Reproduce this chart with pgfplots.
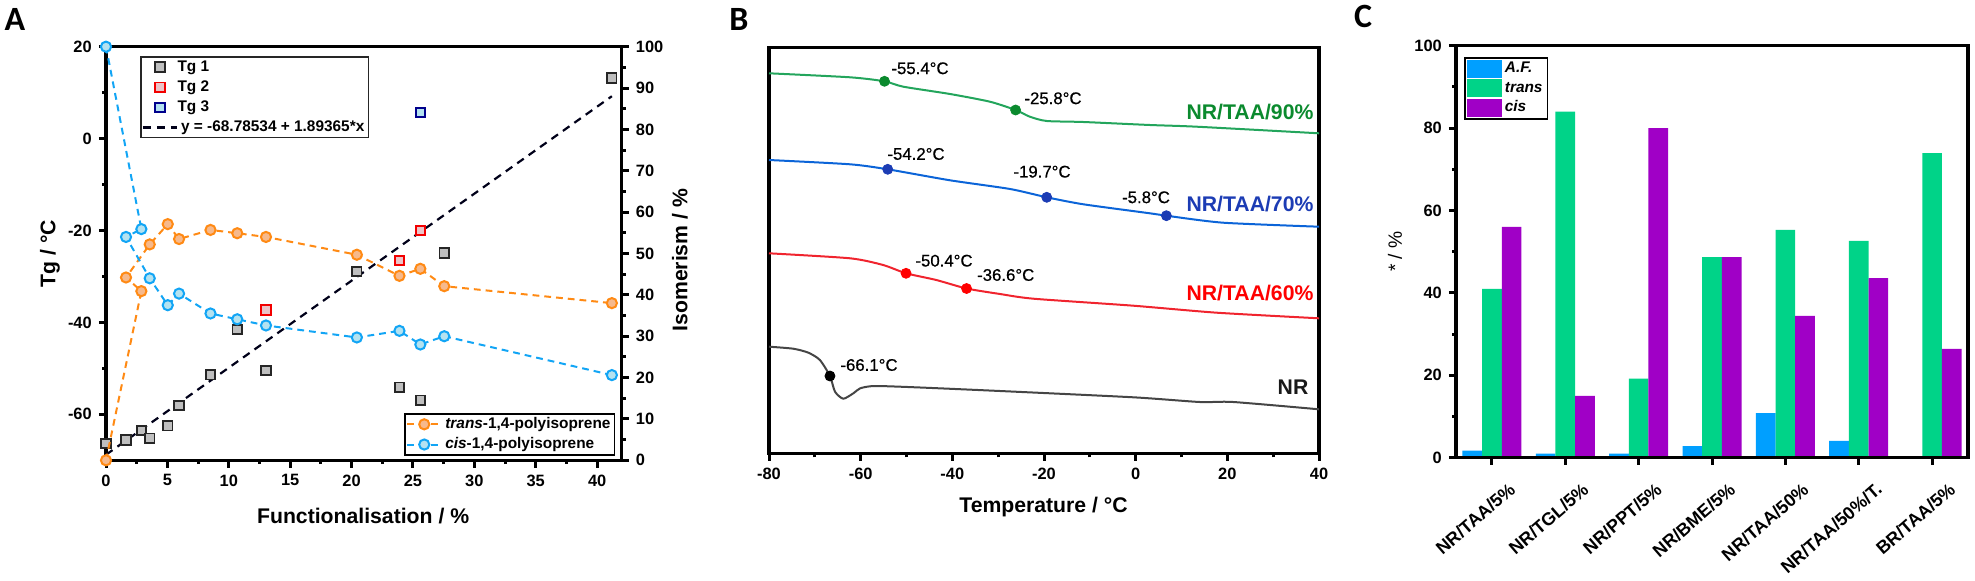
\documentclass[border=0pt]{standalone}
\usepackage{fontspec}
\setmainfont{Liberation Sans}
\newfontfamily\lettersfont{Carlito}
\newfontfamily\annfont[FakeBold=0.6]{Liberation Sans}
\usepackage{pgfplots}
\pgfplotsset{compat=1.18}

\definecolor{orgedge}{HTML}{FF8A14}
\definecolor{orgfill}{HTML}{F6B98C}
\definecolor{bluedge}{HTML}{12A5F5}
\definecolor{blufill}{HTML}{B4E2F0}
\definecolor{trgreen}{HTML}{00D388}
\definecolor{afblue}{HTML}{009FFF}
\definecolor{cispurple}{HTML}{A000C6}
\definecolor{dscgreen}{HTML}{23A55C}
\definecolor{dscblue}{HTML}{0B64D8}
\definecolor{dscred}{HTML}{F0242E}
\definecolor{dscgrey}{HTML}{454545}
\definecolor{lblgreen}{HTML}{0B8A2E}
\definecolor{lblblue}{HTML}{1C3CB4}
\definecolor{tgonefill}{HTML}{BFBFBF}
\definecolor{tgtwofill}{HTML}{EBC4C8}

\newcommand{\tk}{\fontsize{8.2}{10}\selectfont\bfseries}
\newcommand{\lab}{\fontsize{10.6}{12}\selectfont\bfseries}
\newcommand{\leg}{\fontsize{7.7}{9}\selectfont\bfseries}
\newcommand{\PX}[2]{({#1*0.5pt},{290pt-#2*0.5pt})}

\pgfplotsset{
  panel/.style={
    scale only axis,
    /pgf/number format/assume math mode=true,
    tick label style={font=\tk},
    tick align=outside,
    major tick length=3.6pt,
    minor tick length=1.9pt,
    every tick/.style={black,line width=1.5pt},
    every minor tick/.style={black,line width=1.5pt},
    axis line style={line width=1.7pt},
    enlargelimits=false,
    clip=false,
  },
  tgmark/.style 2 args={only marks,mark=square*,mark size=2.35pt,
    mark options={solid,line width=0.9pt,draw=#1,fill=#2}},
  iso/.style 2 args={dash pattern=on 3.4pt off 2.5pt,line width=1pt,color=#1,
    mark=*,mark size=2.55pt,mark options={solid,draw=#1,fill=#2,line width=1pt}},
}

\begin{document}
\begin{tikzpicture}
\useasboundingbox (0,0) rectangle (987.5pt,290pt);

% panel A, Tg axis
\begin{axis}[panel,
  at={(53pt,59.85pt)},anchor=south west,width=257.85pt,height=206.8pt,
  xmin=0,xmax=42,ymin=-70,ymax=20,
  xtick={0,5,...,40},ytick={-60,-40,...,20},
  minor x tick num=1,minor y tick num=1,
  xtick pos=bottom,ytick pos=left,
  xlabel={\lab Functionalisation / \%},
  ylabel={\lab Tg / °C},
  xlabel style={at={(axis description cs:0.4986,-0.135)},anchor=center},
  ylabel style={at={(axis description cs:-0.1086,0.5)},anchor=center},
  legend style={at={(axis description cs:0.0659,0.9775)},anchor=north west,
    font=\leg,draw=black!85,line width=0.8pt,row sep=3pt,inner ysep=1.5pt,inner xsep=0.5pt,
    nodes={text height=5.6pt,text depth=1.5pt,inner ysep=0pt,inner xsep=1.5pt}},
  legend cell align=left,
]
\addplot[tgmark={black!85}{tgonefill}] coordinates {
  (0,-66.3) (1.63,-65.6) (2.88,-63.5) (3.56,-65.2) (5.03,-62.5) (5.95,-58.1)
  (8.51,-51.4) (10.69,-41.5) (13.03,-50.5) (20.43,-28.9) (23.9,-54.1)
  (25.6,-56.9) (27.55,-24.9) (41.2,13.2)};
\addlegendentry{\hspace{-1.8pt}Tg 1}
\addplot[tgmark={red!95!black}{tgtwofill}] coordinates {
  (13.03,-37.3) (23.9,-26.5) (25.6,-20)};
\addlegendentry{\hspace{-1.8pt}Tg 2}
\addplot[tgmark={blue!55!black}{blufill}] coordinates {(25.6,5.7)};
\addlegendentry{\hspace{-1.8pt}Tg 3}
\addplot[black!90!blue,line width=1.1pt,dash pattern=on 4pt off 3pt] coordinates {
  (0,-68.78534) (41.2,9.23)};
\addlegendentry{y = -68.78534 + 1.89365*x}
\end{axis}

% panel A, isomerism axis
\begin{axis}[panel,
  at={(53pt,59.85pt)},anchor=south west,width=257.85pt,height=206.8pt,
  xmin=0,xmax=42,ymin=0,ymax=100,
  axis x line=none,axis y line*=right,
  ytick={0,10,...,100},minor y tick num=1,
  ylabel={\lab Isomerism / \%},
  ylabel style={at={(axis description cs:1.113,0.484)},anchor=center},
  legend style={at={(axis description cs:0.5784,0.1136)},anchor=north west,
    font=\leg,draw=black,line width=0.9pt,row sep=3pt,inner ysep=1.5pt,inner xsep=0.5pt,
    nodes={text height=5.6pt,text depth=1.5pt,inner ysep=0pt,inner xsep=1.5pt}},
  legend cell align=left,
]
\addplot[iso={orgedge}{orgfill}] coordinates {
  (0,0) (2.88,40.9) (1.63,44.2) (3.56,52.2) (5.03,57.1) (5.95,53.5) (8.51,55.7)
  (10.69,54.9) (13.03,54) (20.43,49.7) (23.9,44.6) (25.6,46.3) (27.55,42.1) (41.2,38)};
\addlegendentry{\textit{trans}-1,4-polyisoprene}
\addplot[iso={bluedge}{blufill}] coordinates {
  (0,100) (2.88,55.9) (1.63,54) (3.56,44) (5.03,37.5) (5.95,40.3) (8.51,35.5)
  (10.69,34.1) (13.03,32.6) (20.43,29.7) (23.9,31.3) (25.6,28) (27.55,30) (41.2,20.6)};
\addlegendentry{\textit{cis}-1,4-polyisoprene}
\end{axis}

% panel B, y is height above the axis in arbitrary units
\begin{axis}[panel,
  at={(384.5pt,63.25pt)},anchor=south west,width=275pt,height=202.9pt,
  xmin=-80,xmax=40,ymin=0,ymax=405.8,
  xtick={-80,-60,...,40},minor x tick num=1,ytick=\empty,
  xtick pos=bottom,
  xlabel={\lab Temperature / °C},
  xlabel style={at={(axis description cs:0.4991,-0.132)},anchor=center},
]
\addplot[dscgreen,line width=1pt,smooth,tension=0.4] coordinates {
  (-80,380.2) (-62.3,376.2) (-54.8,372.2) (-50.7,366.8) (-40.5,359.5) (-31.8,351.8)
  (-26.2,343.5) (-23.1,336.8) (-19.4,332.5) (-11.4,331.5) (3.1,328.5) (13.3,326.8) (40,320.2)};
\addplot[dscblue,line width=1pt,smooth,tension=0.4] coordinates {
  (-80,293.5) (-62.3,289.2) (-54.1,284.2) (-40.5,273.2) (-27.4,264.5) (-19.4,256.2)
  (-11.4,249.2) (3.1,240.2) (6.7,237.8) (19.1,230.8) (40,226.8)};
\addplot[dscred,line width=1pt,smooth,tension=0.4] coordinates {
  (-80,200.2) (-62.3,195.2) (-55.1,188.5) (-50.1,180.2) (-43.5,173.5) (-36.9,165)
  (-29.6,159.5) (-22.3,154.8) (-0.5,147.8) (17.7,140.8) (40,135.2)};
\addplot[dscgrey,line width=1pt,smooth,tension=0.4] coordinates {
  (-80,106.8) (-74.7,104.8) (-71.4,100.8) (-68.9,93.5) (-66.7,77.5) (-65.6,61.8)
  (-63.8,54.8) (-61.6,60.2) (-60.1,65.2) (-56.9,67.5) (-47,66) (-29.6,62.5)
  (-0.5,56.2) (14,51.5) (21.3,51.5) (40,44.2)};
\addplot[only marks,mark=*,mark size=2.5pt,color=lblgreen] coordinates {(-54.8,372.2) (-26.2,343.5)};
\addplot[only marks,mark=*,mark size=2.5pt,color=lblblue] coordinates {(-54.1,284.2) (-19.4,256.2) (6.7,237.8)};
\addplot[only marks,mark=*,mark size=2.5pt,color=red] coordinates {(-50.1,180.2) (-36.9,165)};
\addplot[only marks,mark=*,mark size=2.5pt,color=black] coordinates {(-66.7,77.5)};
\end{axis}

% panel C
\begin{axis}[panel,
  at={(728pt,61.15pt)},anchor=south west,width=256pt,height=206pt,
  ybar=0pt,bar width=0.268,
  xmin=-0.49,xmax=6.49,ymin=0,ymax=100,
  xtick={0,...,6},
  xticklabels={NR/TAA/5\%,NR/TGL/5\%,NR/PPT/5\%,NR/BME/5\%,NR/TAA/50\%,NR/TAA/50\%/T.,BR/TAA/5\%},
  x tick label style={font=\fontsize{9}{11}\selectfont\bfseries,rotate=41,anchor=north east,xshift=4pt,yshift=-8pt},
  ytick={0,20,...,100},minor y tick num=1,
  xtick pos=bottom,ytick pos=left,
  axis on top,
  ylabel={\fontsize{9.6}{11}\selectfont * / \%},
  ylabel style={at={(axis description cs:-0.119,0.5)},anchor=center},
  legend style={at={(axis description cs:0.0156,0.973)},anchor=north west,
    font=\fontsize{7.7}{9}\selectfont\bfseries\itshape,draw=black,line width=0.9pt,
    row sep=0.6pt,inner ysep=1pt,inner xsep=1pt,
    nodes={text height=5.6pt,text depth=1.5pt,inner ysep=1pt,inner xsep=1.5pt}},
  legend cell align=left,
  legend image code/.code={\fill[#1,draw=none] (0pt,-4.5pt) rectangle (17.5pt,4.5pt);},
]
\addplot[fill=afblue,draw=none] coordinates {(0,1.7) (1,1) (2,1) (3,2.8) (4,10.8) (5,4.1) (6,0)};
\addlegendentry{A.F.}
\addplot[fill=trgreen,draw=none] coordinates {(0,41) (1,84) (2,19.2) (3,48.7) (4,55.3) (5,52.6) (6,73.9)};
\addlegendentry{trans}
\addplot[fill=cispurple,draw=none] coordinates {(0,56) (1,15) (2,80) (3,48.7) (4,34.4) (5,43.6) (6,26.4)};
\addlegendentry{cis}
\end{axis}

% annotations
\node[font=\lettersfont\fontsize{17}{18}\selectfont\bfseries] at \PX{15}{19} {A};
\node[font=\lettersfont\fontsize{17}{18}\selectfont\bfseries] at \PX{739}{19} {B};
\node[font=\lettersfont\fontsize{17}{18}\selectfont\bfseries] at \PX{1363}{16} {C};
\foreach \x/\y/\t in {920/68.3/-55.4,1053/98.3/-25.8,916/154/-54.2,1042/171.7/-19.7,
  1146/197.3/-5.8,944/260.7/-50.4,1005.7/275/-36.6,869/365/-66.1}{
  \node[font=\annfont\fontsize{8.4}{10}\selectfont] at \PX{\x}{\y} {\t°C};
}
\node[font=\lab,text=lblgreen] at \PX{1250}{112.3} {NR/TAA/90\%};
\node[font=\lab,text=lblblue] at \PX{1250}{204} {NR/TAA/70\%};
\node[font=\lab,text=red] at \PX{1250}{293.3} {NR/TAA/60\%};
\node[font=\lab,text=black!90] at \PX{1293}{387.3} {NR};
\end{tikzpicture}
\end{document}
